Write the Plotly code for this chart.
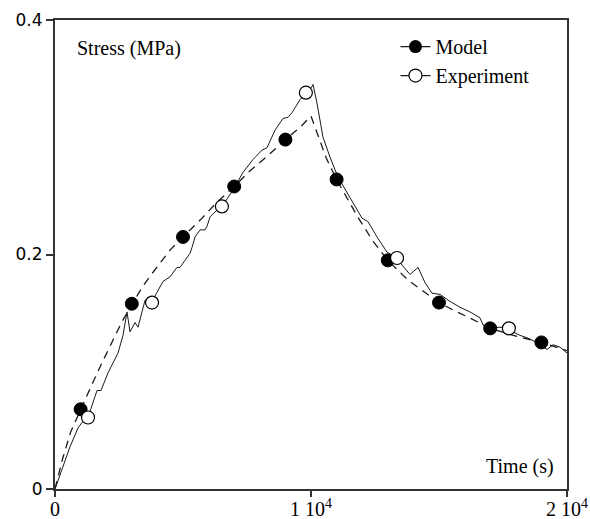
import plotly.graph_objects as go

# ---- data (time in s, stress in MPa) ----
exp_t = [0, 273, 586, 898, 1133, 1289, 1445, 1641, 1797, 2070, 2461, 2656, 2813, 2930,
         3125, 3242, 3398, 3516, 3789, 4023, 4219, 4492, 4766, 4883, 5156, 5273, 5352,
         5469, 5664, 5859, 5938, 6055, 6328, 6523, 6953, 7344, 7734, 8086, 8281, 8477,
         8594, 8906, 9102, 9258, 9570, 9805, 10000, 10080, 10234, 10469, 10742, 11055,
         11406, 11797, 11992, 12227, 12578, 12969, 13359, 13477, 13867, 14180, 14453,
         14727, 15039, 15430, 15820, 16211, 16602, 16719, 16914, 17383, 17734, 17891,
         18164, 18438, 18828, 19219, 19453, 19727, 20000]
exp_s = [0, 0.016, 0.036, 0.052, 0.059, 0.061, 0.072, 0.084, 0.084, 0.099, 0.116, 0.131,
         0.151, 0.134, 0.142, 0.138, 0.151, 0.161, 0.160, 0.170, 0.177, 0.181, 0.189,
         0.189, 0.198, 0.201, 0.206, 0.215, 0.221, 0.221, 0.224, 0.232, 0.238, 0.241,
         0.255, 0.270, 0.281, 0.289, 0.291, 0.300, 0.306, 0.316, 0.317, 0.321, 0.332,
         0.338, 0.342, 0.345, 0.329, 0.300, 0.283, 0.266, 0.253, 0.238, 0.231, 0.228,
         0.215, 0.202, 0.197, 0.193, 0.183, 0.189, 0.176, 0.167, 0.166, 0.160, 0.155,
         0.151, 0.146, 0.140, 0.137, 0.138, 0.137, 0.134, 0.131, 0.129, 0.125, 0.119,
         0.123, 0.121, 0.116]

model_t = [0, 300, 600, 1000, 1400, 1800, 2200, 2600, 3000, 3400, 3800, 4500, 5000, 5700,
           6300, 7000, 7600, 8300, 9000, 9600, 10000, 10200, 10400, 10600, 11000, 11400,
           11800, 12400, 13000, 13800, 14300, 15000, 15700, 16200, 17000, 17900, 19000,
           20000]
model_s = [0, 0.026, 0.048, 0.068, 0.087, 0.106, 0.124, 0.142, 0.157, 0.172, 0.184,
           0.204, 0.215, 0.230, 0.244, 0.258, 0.271, 0.284, 0.298, 0.309, 0.318, 0.306,
           0.294, 0.282, 0.264, 0.249, 0.233, 0.212, 0.195, 0.178, 0.170, 0.159, 0.151,
           0.146, 0.137, 0.131, 0.125, 0.118]

model_mk_t = [1000, 3000, 5000, 7000, 9000, 11000, 13000, 15000, 17000, 19000]
model_mk_s = [0.068, 0.158, 0.215, 0.258, 0.298, 0.264, 0.195, 0.159, 0.137, 0.125]

exp_mk_t = [1290, 3790, 6520, 9800, 13360, 17730]
exp_mk_s = [0.061, 0.159, 0.241, 0.338, 0.197, 0.137]

x_ticks = [0, 10000, 20000]
x_ticktext = ["0", "1 10<sup>4</sup>", "2 10<sup>4</sup>"]
y_ticks = [0, 0.2, 0.4]
y_ticktext = ["0", "0.2", "0.4"]

INK = "#1a1a1a"
SERIF = "Liberation Serif, Times New Roman, serif"

fig = go.Figure()
fig.add_trace(go.Scatter(x=model_t, y=model_s, mode="lines",
                         line=dict(color=INK, width=1.3, dash="8px,6px"),
                         showlegend=False, hoverinfo="skip"))
fig.add_trace(go.Scatter(x=exp_t, y=exp_s, mode="lines",
                         line=dict(color=INK, width=1),
                         showlegend=False, hoverinfo="skip"))
fig.add_trace(go.Scatter(x=model_mk_t, y=model_mk_s, mode="markers",
                         marker=dict(symbol="circle", size=13, color="black",
                                     line=dict(color="black", width=1)),
                         showlegend=False))
fig.add_trace(go.Scatter(x=exp_mk_t, y=exp_mk_s, mode="markers",
                         marker=dict(symbol="circle", size=13, color="white",
                                     line=dict(color="black", width=1.2)),
                         showlegend=False))
# legend entries
fig.add_trace(go.Scatter(x=[None], y=[None], mode="lines+markers", name="Model",
                         line=dict(color=INK, width=1.3),
                         marker=dict(symbol="circle", size=13, color="black")))
fig.add_trace(go.Scatter(x=[None], y=[None], mode="lines+markers", name="Experiment",
                         line=dict(color=INK, width=1.3),
                         marker=dict(symbol="circle", size=13, color="white",
                                     line=dict(color="black", width=1.2))))

fig.update_layout(
    width=590, height=519,
    margin=dict(l=55, r=23, t=20, b=30),
    paper_bgcolor="white", plot_bgcolor="white",
    showlegend=True,
    legend=dict(x=0.665, y=0.985, xanchor="left", yanchor="top",
                bgcolor="rgba(0,0,0,0)", traceorder="normal",
                font=dict(family=SERIF, size=20, color="black"),
                itemwidth=30),
    annotations=[
        dict(text="Stress (MPa)", xref="paper", yref="paper", x=0.039, y=0.94,
             xanchor="left", yanchor="middle", showarrow=False,
             font=dict(family=SERIF, size=20, color="black")),
        dict(text="Time (s)", xref="paper", yref="paper", x=0.978, y=0.049,
             xanchor="right", yanchor="middle", showarrow=False,
             font=dict(family=SERIF, size=20, color="black")),
    ],
)
fig.update_xaxes(range=[0, 20000], tickvals=x_ticks, ticktext=x_ticktext,
                 ticks="outside", ticklen=6, tickwidth=1.5, tickcolor="#333",
                 showline=True, linecolor="#333", linewidth=2, mirror=True,
                 showgrid=False, zeroline=False, automargin=False,
                 ticklabelstandoff=-5,
                 tickfont=dict(family=SERIF, size=20, color="black"))
fig.update_yaxes(range=[0, 0.4], tickvals=y_ticks, ticktext=y_ticktext,
                 ticks="outside", ticklen=7, tickwidth=1.5, tickcolor="#333",
                 showline=True, linecolor="#333", linewidth=2, mirror=True,
                 showgrid=False, zeroline=False, automargin=False,
                 tickfont=dict(family="DejaVu Sans, sans-serif", size=17, color="black"))

fig.write_html("out.html")
